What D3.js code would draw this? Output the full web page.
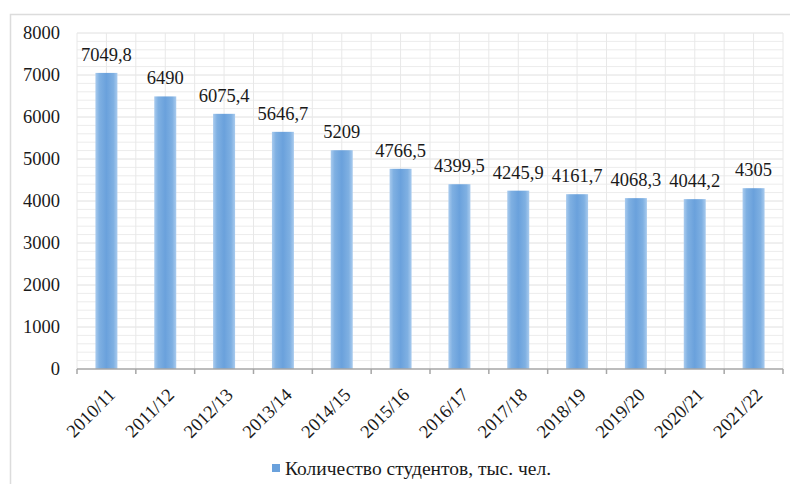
<!DOCTYPE html>
<html>
<head>
<meta charset="utf-8">
<script src="https://cdn.jsdelivr.net/npm/d3@7"></script>
<style>
  html, body { margin: 0; padding: 0; background: #fff; }
  svg { display: block; }
</style>
</head>
<body>
<div id="chart"></div>
<script>
  // academic years and number of students, thousand people
  const years = ["2010/11", "2011/12", "2012/13", "2013/14", "2014/15", "2015/16",
    "2016/17", "2017/18", "2018/19", "2019/20", "2020/21", "2021/22"];
  const students = [7049.8, 6490, 6075.4, 5646.7, 5209, 4766.5,
    4399.5, 4245.9, 4161.7, 4068.3, 4044.2, 4305];
  const yTicks = [0, 1000, 2000, 3000, 4000, 5000, 6000, 7000, 8000];
  const legendLabel = "Количество студентов, тыс. чел.";

  const width = 790;
  const height = 484;
  const margin = { top: 33, right: 7, bottom: 115, left: 77 };
  const font = "'Liberation Serif', 'Times New Roman', serif";

  const svg = d3.select("#chart")
    .append("svg")
    .attr("width", width)
    .attr("height", height)
    .attr("font-family", font);

  // bar gradient, lighter on the edges
  const grad = svg.append("defs").append("linearGradient")
    .attr("id", "barGrad")
    .attr("x1", "0").attr("x2", "1").attr("y1", "0").attr("y2", "0");
  grad.append("stop").attr("offset", "0%").attr("stop-color", "#a9cbee");
  grad.append("stop").attr("offset", "18%").attr("stop-color", "#7fb0e2");
  grad.append("stop").attr("offset", "50%").attr("stop-color", "#6aa1dc");
  grad.append("stop").attr("offset", "82%").attr("stop-color", "#7fb0e2");
  grad.append("stop").attr("offset", "100%").attr("stop-color", "#a9cbee");

  // outer frame
  svg.append("rect")
    .attr("x", 10.5).attr("y", 14.5)
    .attr("width", 800).attr("height", 500)
    .attr("fill", "none")
    .attr("stroke", "#dcdcdc")
    .attr("stroke-width", 1.5);

  const x = d3.scaleBand()
    .domain(years)
    .range([margin.left, width - margin.right])
    .paddingInner(0)
    .paddingOuter(0);

  const y = d3.scaleLinear()
    .domain([0, 8000])
    .range([height - margin.bottom, margin.top]);

  // grid
  const grid = svg.append("g");
  grid.selectAll("line.h")
    .data(d3.range(200, 8001, 200))
    .join("line")
    .attr("x1", margin.left).attr("x2", width - margin.right)
    .attr("y1", (d) => y(d)).attr("y2", (d) => y(d))
    .attr("stroke", (d) => (d % 1000 === 0 ? "#e0e0e0" : "#ececec"))
    .attr("stroke-width", 1);

  const halfSteps = d3.range(0, years.length * 2 + 1);
  grid.selectAll("line.v")
    .data(halfSteps)
    .join("line")
    .attr("x1", (d) => margin.left + (d * x.bandwidth()) / 2)
    .attr("x2", (d) => margin.left + (d * x.bandwidth()) / 2)
    .attr("y1", margin.top).attr("y2", y(0))
    .attr("stroke", "#e8e8e8")
    .attr("stroke-width", 1);

  // bars
  const barW = 22;
  svg.append("g")
    .selectAll("rect")
    .data(students)
    .join("rect")
    .attr("x", (d, i) => x(years[i]) + x.bandwidth() / 2 - barW / 2)
    .attr("y", (d) => y(d))
    .attr("width", barW)
    .attr("height", (d) => y(0) - y(d))
    .attr("fill", "url(#barGrad)");

  // value labels
  svg.append("g")
    .selectAll("text")
    .data(students)
    .join("text")
    .attr("x", (d, i) => x(years[i]) + x.bandwidth() / 2)
    .attr("y", (d) => y(d) - 12)
    .attr("text-anchor", "middle")
    .attr("font-size", 18.5)
    .attr("fill", "#1a1a1a")
    .text((d) => String(d).replace(".", ","));

  // x axis
  const xAxis = svg.append("g")
    .attr("transform", `translate(0,${y(0)})`);
  xAxis.append("line")
    .attr("x1", margin.left).attr("x2", width - margin.right)
    .attr("y1", 0).attr("y2", 0)
    .attr("stroke", "#a6a6a6").attr("stroke-width", 1.5);
  xAxis.selectAll("line.tick")
    .data(d3.range(0, years.length + 1))
    .join("line")
    .attr("x1", (d) => margin.left + d * x.bandwidth())
    .attr("x2", (d) => margin.left + d * x.bandwidth())
    .attr("y1", 0).attr("y2", 5)
    .attr("stroke", "#a6a6a6").attr("stroke-width", 1.5);
  xAxis.selectAll("text")
    .data(years)
    .join("text")
    .attr("transform", (d) => `translate(${x(d) + x.bandwidth() / 2 + 10},${27}) rotate(-45)`)
    .attr("text-anchor", "end")
    .attr("font-size", 18.5)
    .attr("fill", "#1a1a1a")
    .text((d) => d);

  // y axis labels
  svg.append("g")
    .selectAll("text")
    .data(yTicks)
    .join("text")
    .attr("x", 60)
    .attr("y", (d) => y(d))
    .attr("dy", "0.35em")
    .attr("text-anchor", "end")
    .attr("font-size", 18.5)
    .attr("fill", "#1a1a1a")
    .text((d) => d);

  // legend
  const legend = svg.append("g").attr("transform", "translate(272,468)");
  legend.append("rect")
    .attr("x", 0).attr("y", -4)
    .attr("width", 8).attr("height", 8)
    .attr("fill", "#6aa1dc");
  legend.append("text")
    .attr("x", 13).attr("y", 0)
    .attr("dy", "0.35em")
    .attr("font-size", 19.5)
    .attr("fill", "#1a1a1a")
    .text(legendLabel);
</script>
</body>
</html>
